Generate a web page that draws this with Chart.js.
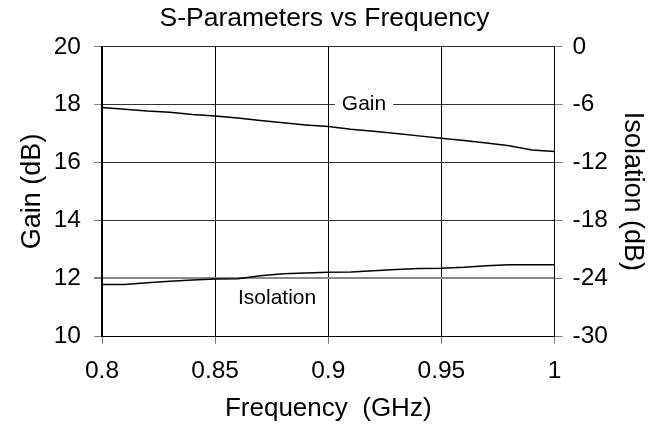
<!DOCTYPE html>
<html>
<head>
<meta charset="utf-8">
<script src="https://cdn.jsdelivr.net/npm/chart.js@4"></script>
<style>
  html, body { margin: 0; padding: 0; background: #fff; }
  #wrap { width: 649px; height: 428px; }
</style>
</head>
<body>
<div id="wrap"><canvas id="c" width="649" height="428"></canvas></div>
<script>
// ---- data ----
const freq = [0.80, 0.81, 0.82, 0.83, 0.84, 0.85, 0.86, 0.87, 0.88, 0.89, 0.90,
              0.91, 0.92, 0.93, 0.94, 0.95, 0.96, 0.97, 0.98, 0.99, 1.00];
const gain = [17.90, 17.84, 17.78, 17.74, 17.66, 17.61, 17.54, 17.45, 17.37, 17.30, 17.24,
              17.15, 17.08, 17.00, 16.92, 16.84, 16.76, 16.67, 16.58, 16.43, 16.38];
const isolation = [-24.67, -24.65, -24.47, -24.33, -24.18, -24.08, -24.06, -23.75, -23.55, -23.46, -23.38,
                   -23.36, -23.23, -23.10, -22.99, -22.98, -22.88, -22.72, -22.61, -22.61, -22.61];
const xTicks = [0.8, 0.85, 0.9, 0.95, 1];
const gainTicks = [10, 12, 14, 16, 18, 20];
const isoTicks = [-30, -24, -18, -12, -6, 0];
const seriesLabels = ["Gain", "Isolation"];
// in-chart label anchors (data coordinates: frequency, gain-axis value)
const gainLabelPos = [0.9158, 18.0];
const isoLabelPos = [0.8774, 11.32];

const FONT = "'Liberation Sans', Arial, sans-serif";
Chart.defaults.font.family = FONT;
Chart.defaults.color = '#000';

const labelPlugin = {
  id: 'inlineLabels',
  afterDatasetsDraw(chart) {
    const {ctx, scales} = chart;
    ctx.save();
    ctx.font = "21px " + FONT;
    ctx.textAlign = 'center';
    ctx.textBaseline = 'middle';
    const items = [[seriesLabels[0], gainLabelPos, true], [seriesLabels[1], isoLabelPos, false]];
    for (const [txt, pos, bg] of items) {
      const px = scales.x.getPixelForValue(pos[0]);
      const py = scales.y.getPixelForValue(pos[1]);
      if (bg) {
        const w = ctx.measureText(txt).width + 14;
        ctx.fillStyle = '#fff';
        ctx.fillRect(px - w / 2, py - 12, w, 24);
      }
      ctx.fillStyle = '#000';
      ctx.fillText(txt, px, py);
    }
    ctx.restore();
  }
};

new Chart(document.getElementById('c'), {
  type: 'line',
  data: {
    datasets: [
      {
        label: seriesLabels[0],
        data: freq.map((f, i) => ({x: f, y: gain[i]})),
        borderColor: '#000', borderWidth: 1.5, pointRadius: 0, tension: 0, yAxisID: 'y'
      },
      {
        label: seriesLabels[1],
        data: freq.map((f, i) => ({x: f, y: isolation[i]})),
        borderColor: '#000', borderWidth: 1.5, pointRadius: 0, tension: 0, yAxisID: 'y2'
      }
    ]
  },
  options: {
    responsive: false,
    animation: false,
    layout: { padding: 0 },
    plugins: {
      legend: { display: false },
      tooltip: { enabled: false },
      title: {
        display: true,
        text: 'S-Parameters vs Frequency',
        color: '#000',
        font: { size: 26.5, weight: 'normal', lineHeight: 1.2 },
        padding: { top: 3, bottom: 12 }
      }
    },
    scales: {
      x: {
        type: 'linear', min: 0.8, max: 1,
        afterBuildTicks(s) { s.ticks = xTicks.map(v => ({value: v})); },
        afterFit(s) { s.height = 92; },
        ticks: { font: { size: 24.5 }, padding: 13, color: '#000', maxRotation: 0,
                 callback: v => String(v) },
        grid: { color: '#000', lineWidth: 1, tickLength: 8, tickColor: '#808080', drawTicks: true },
        border: { color: '#000', width: 1 },
        title: { display: true, text: 'Frequency  (GHz)', font: { size: 26 }, color: '#000',
                 padding: { top: 0, bottom: 4 } }
      },
      y: {
        position: 'left', min: 10, max: 20,
        afterBuildTicks(s) { s.ticks = gainTicks.map(v => ({value: v})); },
        afterFit(s) { s.width = 102; },
        ticks: { font: { size: 24.5 }, padding: 13, color: '#000' },
        grid: { color: ctx => (ctx.tick && ctx.tick.value === 12) ? '#8a8a8a' : '#333',
                lineWidth: ctx => (ctx.tick && ctx.tick.value === 12) ? 2 : 1,
                tickLength: 8, tickColor: '#808080' },
        border: { color: '#000', width: 2 },
        title: { display: true, text: 'Gain (dB)', font: { size: 27 }, color: '#000',
                 padding: { top: 16, bottom: 0 } }
      },
      y2: {
        position: 'right', min: -30, max: 0,
        afterBuildTicks(s) { s.ticks = isoTicks.map(v => ({value: v})); },
        afterFit(s) { s.width = 94.5; },
        ticks: { font: { size: 24.5 }, padding: 10, color: '#000' },
        grid: { drawOnChartArea: false, tickLength: 8, tickColor: '#808080' },
        border: { color: '#000', width: 1 },
        title: { display: true, text: 'Isolation (dB)', font: { size: 27 }, color: '#000',
                 padding: { top: 0, bottom: 0 } }
      }
    }
  },
  plugins: [labelPlugin]
});
</script>
</body>
</html>
